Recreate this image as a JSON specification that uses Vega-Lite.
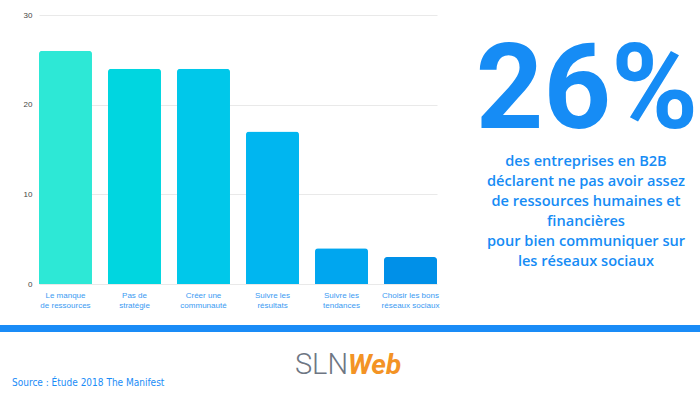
{
  "$schema": "https://vega.github.io/schema/vega-lite/v6.json",
  "background": "white",
  "padding": {"left": 0, "top": 11, "right": 0, "bottom": 0},
  "autosize": {"type": "pad"},
  "config": {"view": {"stroke": null}},
  "spacing": 16,
  "vconcat": [
    {
      "spacing": 0,
      "hconcat": [
        {
          "width": 398,
          "height": 269,
          "data": {
            "values": [
              {"cat": "Le manque|de ressources", "value": 26},
              {"cat": "Pas de|stratégie", "value": 24},
              {"cat": "Créer une|communauté", "value": 24},
              {"cat": "Suivre les|résultats", "value": 17},
              {"cat": "Suivre les|tendances", "value": 4},
              {"cat": "Choisir les bons|réseaux sociaux", "value": 3}
            ]
          },
          "mark": {"type": "bar", "cornerRadiusTopLeft": 3, "cornerRadiusTopRight": 3},
          "encoding": {
            "x": {
              "field": "cat",
              "type": "nominal",
              "sort": null,
              "scale": {"paddingInner": 0.232, "paddingOuter": 0},
              "axis": {
                "title": null,
                "labelAngle": 0,
                "labelExpr": "split(datum.label, '|')",
                "labelFont": "Liberation Sans",
                "labelFontSize": 8,
                "labelColor": "#3a9af2",
                "labelLineHeight": 10,
                "labelBaseline": "top",
                "labelPadding": 7,
                "labelOverlap": false,
                "ticks": false,
                "domain": false
              }
            },
            "y": {
              "field": "value",
              "type": "quantitative",
              "scale": {"domain": [0, 30]},
              "axis": {
                "title": null,
                "values": [0, 10, 20, 30],
                "domain": false,
                "ticks": false,
                "labelPadding": 7,
                "labelFont": "Liberation Sans",
                "labelFontSize": 8,
                "labelColor": "#444444",
                "gridColor": "#e9e9e9",
                "minExtent": 39
              }
            },
            "color": {
              "field": "cat",
              "type": "nominal",
              "legend": null,
              "scale": {
                "domain": ["Le manque|de ressources", "Pas de|stratégie", "Créer une|communauté", "Suivre les|résultats", "Suivre les|tendances", "Choisir les bons|réseaux sociaux"],
                "range": ["#2de8d6", "#00d6e0", "#00c8ea", "#00b6f0", "#00a6ef", "#0090e8"]
              }
            }
          }
        },
        {
          "width": 263,
          "height": 269,
          "data": {
            "values": [
              {
                "big": "26%",
                "lines": ["des entreprises en B2B", "déclarent ne pas avoir assez", "de ressources humaines et", "financières", "pour bien communiquer sur", "les réseaux sociaux"]
              }
            ]
          },
          "layer": [
            {
              "mark": {
                "type": "text",
                "font": "Roboto",
                "fontWeight": "bold",
                "fontSize": 118,
                "color": "#168cf5",
                "align": "center",
                "baseline": "alphabetic",
                "x": 148,
                "y": 113
              },
              "encoding": {"text": {"field": "big"}}
            },
            {
              "mark": {
                "type": "text",
                "font": "Open Sans",
                "fontWeight": 600,
                "fontSize": 14.6,
                "lineHeight": 20,
                "color": "#168cf5",
                "align": "center",
                "baseline": "alphabetic",
                "x": 147,
                "y": 151
              },
              "encoding": {"text": {"field": "lines"}}
            }
          ]
        }
      ]
    },
    {
      "width": 661,
      "height": 70,
      "data": {"values": [{"a": "SLN", "b": "Web", "src": "Source : Étude 2018 The Manifest"}]},
      "layer": [
        {
          "mark": {"type": "rect", "color": "#1a8cf7", "x": -39, "x2": 661, "y": 0, "y2": 7},
          "encoding": {}
        },
        {
          "mark": {
            "type": "text",
            "font": "Roboto",
            "fontWeight": 300,
            "fontSize": 29,
            "color": "#6e7683",
            "align": "right",
            "baseline": "alphabetic",
            "x": 309,
            "y": 49
          },
          "encoding": {"text": {"field": "a"}}
        },
        {
          "mark": {
            "type": "text",
            "font": "Roboto",
            "fontWeight": "bold",
            "fontStyle": "italic",
            "fontSize": 28,
            "color": "#f39325",
            "align": "left",
            "baseline": "alphabetic",
            "x": 309,
            "y": 49
          },
          "encoding": {"text": {"field": "b"}}
        },
        {
          "mark": {
            "type": "text",
            "font": "'DejaVu Sans Condensed', 'Liberation Sans', sans-serif",
            "fontSize": 10,
            "color": "#1a8cf7",
            "align": "left",
            "baseline": "alphabetic",
            "x": -27,
            "y": 61
          },
          "encoding": {"text": {"field": "src"}}
        }
      ]
    }
  ]
}
